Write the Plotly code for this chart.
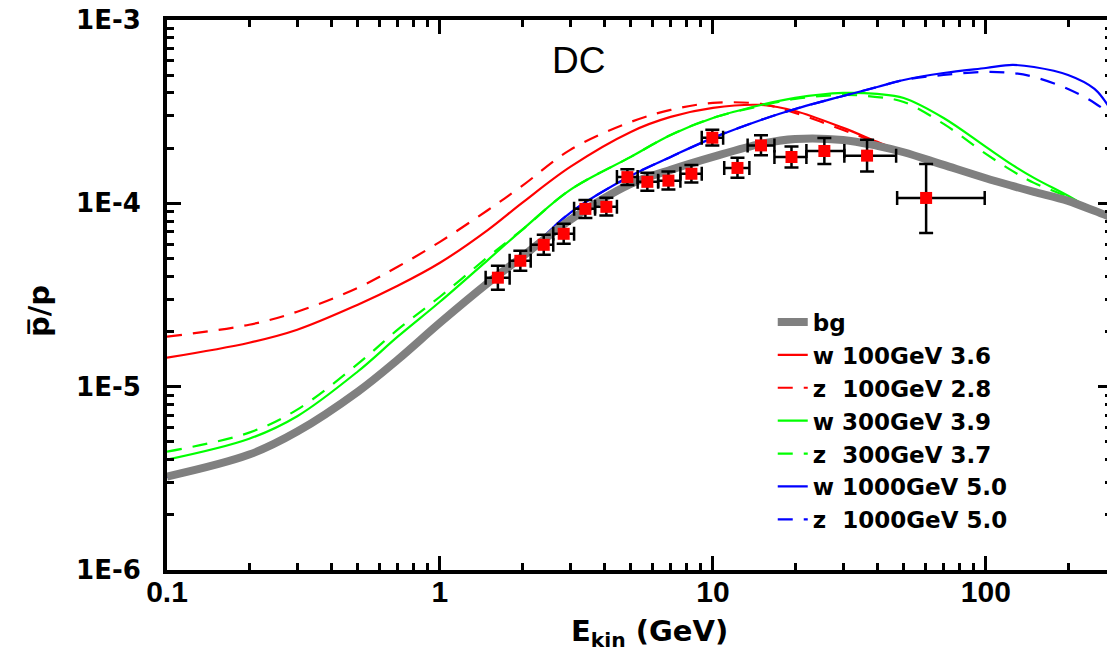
import plotly.graph_objects as go

# ---------------- data ----------------
E_grid = [0.1, 0.2, 0.3, 0.5, 0.7, 1, 1.5, 2, 3, 5, 7, 10, 15, 20, 30, 40, 50, 70,
          100, 125, 150, 200, 250, 290]

bg = [3.232e-6, 4.26e-6, 5.69e-6, 9.39e-6, 1.403e-5, 2.23e-5, 3.68e-5, 5.11e-5, 8.13e-5,
      1.277e-4, 1.523e-4, 1.792e-4, 2.11e-4, 2.246e-4, 2.218e-4, 2.058e-4, 1.90e-4,
      1.62e-4, 1.37e-4, 1.245e-4, 1.155e-4, 1.032e-4, 9.1e-5, 8.34e-5]

w100 = [1.439e-5, 1.737e-5, 2.045e-5, 2.8e-5, 3.55e-5, 4.74e-5, 7.17e-5, 1.006e-4, 1.581e-4,
        2.453e-4, 2.96e-4, 3.314e-4, 3.44e-4, 3.19e-4, 2.579e-4, 2.164e-4, 1.90e-4,
        1.62e-4, 1.37e-4, 1.245e-4, 1.155e-4, 1.032e-4, 9.1e-5, 8.34e-5]

z100 = [1.873e-5, 2.177e-5, 2.563e-5, 3.463e-5, 4.508e-5, 6.168e-5, 9.2e-5, 1.245e-4, 1.957e-4,
        2.78e-4, 3.232e-4, 3.528e-4, 3.484e-4, 3.116e-4, 2.513e-4, 2.137e-4, 1.90e-4,
        1.62e-4, 1.37e-4, 1.245e-4, 1.155e-4, 1.032e-4, 9.1e-5, 8.34e-5]

w300 = [4.0e-6, 5.2e-6, 6.9e-6, 1.21e-5, 1.873e-5, 2.905e-5, 4.92e-5, 7.17e-5, 1.185e-4,
        1.792e-4, 2.361e-4, 2.923e-4, 3.44e-4, 3.757e-4, 4.0e-4, 3.95e-4, 3.757e-4,
        2.923e-4, 2.032e-4, 1.621e-4, 1.377e-4, 1.099e-4, 9.1e-5, 8.34e-5]

z300 = [4.42e-6, 5.615e-6, 7.5e-6, 1.33e-5, 2.045e-5, 3.093e-5, 5.11e-5, 7.17e-5, 1.185e-4,
        1.792e-4, 2.361e-4, 2.923e-4, 3.40e-4, 3.71e-4, 3.90e-4, 3.80e-4, 3.573e-4,
        2.712e-4, 1.861e-4, 1.503e-4, 1.293e-4, 1.085e-4, 9.1e-5, 8.34e-5]

w1000 = [3.232e-6, 4.26e-6, 5.69e-6, 9.39e-6, 1.403e-5, 2.23e-5, 3.68e-5, 5.11e-5, 8.87e-5,
         1.413e-4, 1.792e-4, 2.275e-4, 2.851e-4, 3.27e-4, 3.853e-4, 4.31e-4, 4.71e-4,
         5.14e-4, 5.473e-4, 5.686e-4, 5.543e-4, 5.014e-4, 4.207e-4, 3.15e-4]

z1000 = [3.232e-6, 4.26e-6, 5.69e-6, 9.39e-6, 1.403e-5, 2.23e-5, 3.68e-5, 5.11e-5, 8.87e-5,
         1.413e-4, 1.792e-4, 2.275e-4, 2.851e-4, 3.27e-4, 3.853e-4, 4.31e-4, 4.71e-4,
         5.014e-4, 5.21e-4, 5.14e-4, 4.89e-4, 4.207e-4, 3.528e-4, 2.997e-4]

# measured points
E_pts = [1.63, 1.97, 2.40, 2.84, 3.41, 4.07, 4.86, 5.75, 6.87, 8.34, 9.95, 12.3, 15.0,
         19.4, 25.6, 36.7, 60.4]
E_lo = [1.47, 1.80, 2.15, 2.60, 3.10, 3.70, 4.45, 5.30, 6.30, 7.60, 9.10, 11.0, 13.4,
        16.8, 22.0, 30.3, 47.3]
E_hi = [1.80, 2.15, 2.60, 3.10, 3.70, 4.45, 5.30, 6.30, 7.60, 9.10, 10.9, 13.6, 16.8,
        22.0, 30.3, 46.9, 99.0]
R_pts = [3.93e-5, 4.86e-5, 5.94e-5, 6.82e-5, 9.33e-5, 9.57e-5, 1.39e-4, 1.31e-4, 1.33e-4,
         1.45e-4, 2.28e-4, 1.56e-4, 2.07e-4, 1.79e-4, 1.93e-4, 1.82e-4, 1.07e-4]
R_up = [6.4e-6, 6.5e-6, 8.0e-6, 9.1e-6, 1.1e-5, 1.15e-5, 1.46e-5, 1.6e-5, 1.6e-5,
        1.7e-5, 2.4e-5, 2.1e-5, 2.8e-5, 2.5e-5, 3.4e-5, 4.0e-5, 5.7e-5]
R_dn = [5.5e-6, 5.7e-6, 7.0e-6, 8.0e-6, 1.0e-5, 1.0e-5, 1.3e-5, 1.4e-5, 1.4e-5,
        1.5e-5, 2.1e-5, 1.8e-5, 2.4e-5, 2.2e-5, 2.9e-5, 3.3e-5, 3.8e-5]

x_tick_vals = [0.1, 1, 10, 100]
x_tick_text = ["0.1", "1", "10", "100"]
y_tick_vals = [1e-6, 1e-5, 1e-4, 1e-3]
y_tick_text = ["1E-6", "1E-5", "1E-4", "1E-3"]

# ---------------- figure ----------------
fig = go.Figure()

DASH = "15px,11px"
curves = [
    ("w 100GeV 3.6", w100, "#FF0000", "solid", 2),
    ("z  100GeV 2.8", z100, "#FF0000", DASH, 3),
    ("w 300GeV 3.9", w300, "#00FF00", "solid", 4),
    ("z  300GeV 3.7", z300, "#00FF00", DASH, 5),
    ("w 1000GeV 5.0", w1000, "#0000FF", "solid", 6),
    ("z  1000GeV 5.0", z1000, "#0000FF", DASH, 7),
]
for name, vals, col, dash, rank in curves:
    fig.add_trace(go.Scatter(
        x=E_grid, y=vals, mode="lines", name=name, legendrank=rank,
        line=dict(color=col, width=2.2, dash=dash, shape="spline", smoothing=1.0),
    ))

fig.add_trace(go.Scatter(
    x=E_grid, y=bg, mode="lines", name="bg", legendrank=1,
    line=dict(color="#808080", width=8, shape="spline", smoothing=1.0),
))

fig.add_trace(go.Scatter(
    x=E_pts, y=R_pts, mode="markers", showlegend=False,
    marker=dict(symbol="square", size=12, color="#FF0000", line=dict(width=0)),
    error_y=dict(type="data", symmetric=False, array=R_up, arrayminus=R_dn,
                 color="black", thickness=2.5, width=7),
    error_x=dict(type="data", symmetric=False,
                 array=[h - e for h, e in zip(E_hi, E_pts)],
                 arrayminus=[e - l for e, l in zip(E_pts, E_lo)],
                 color="black", thickness=2.5, width=7),
))

axis_common = dict(
    type="log", showgrid=False, zeroline=False, showline=True, linecolor="black",
    linewidth=4, mirror="allticks", ticks="inside", tickwidth=3, ticklen=14,
    tickcolor="black", automargin=False, ticklabeloverflow="allow",
    minor=dict(ticks="inside", ticklen=7, tickwidth=3, tickcolor="black",
               dtick="D1", showgrid=False),
)

fig.update_xaxes(
    **axis_common, range=[-1, 2.462], tickmode="array",
    tickvals=x_tick_vals, ticktext=x_tick_text,
    tickfont=dict(family="Arial", size=30, color="black", weight="bold"),
    ticklabelstandoff=-8,
)
fig.update_yaxes(
    **axis_common, range=[-6, -3], tickmode="array",
    tickvals=y_tick_vals, ticktext=y_tick_text,
    tickfont=dict(family="DejaVu Sans", size=26, color="black", weight="bold"),
    ticklabelstandoff=17,
)

# the page body has an 8px margin, so the figure is 8px smaller and margins shifted
fig.update_layout(
    width=1107, height=653,
    margin=dict(l=159, r=3, t=12, b=91, autoexpand=False),
    paper_bgcolor="white", plot_bgcolor="white",
    legend=dict(
        x=0.641, y=0.49, xanchor="left", yanchor="top",
        bgcolor="rgba(0,0,0,0)", borderwidth=0,
        font=dict(family="DejaVu Sans", size=23, color="black", weight="bold"),
        tracegroupgap=0,
    ),
    annotations=[
        dict(text="DC", x=0.435, y=0.927, xref="paper", yref="paper",
             showarrow=False, xanchor="center", yanchor="middle",
             font=dict(family="Arial", size=37, color="black")),
        dict(text="E<sub>kin</sub> (GeV)", x=0.511, y=-0.115, xref="paper", yref="paper",
             showarrow=False, xanchor="center", yanchor="middle",
             font=dict(family="DejaVu Sans", size=29, color="black", weight="bold")),
        dict(text="p\u0305/p", x=-0.1354, y=0.471, xref="paper", yref="paper",
             showarrow=False, textangle=-90, xanchor="center", yanchor="middle",
             font=dict(family="DejaVu Sans", size=29, color="black", weight="bold")),
    ],
)

fig.write_html("out.html")
